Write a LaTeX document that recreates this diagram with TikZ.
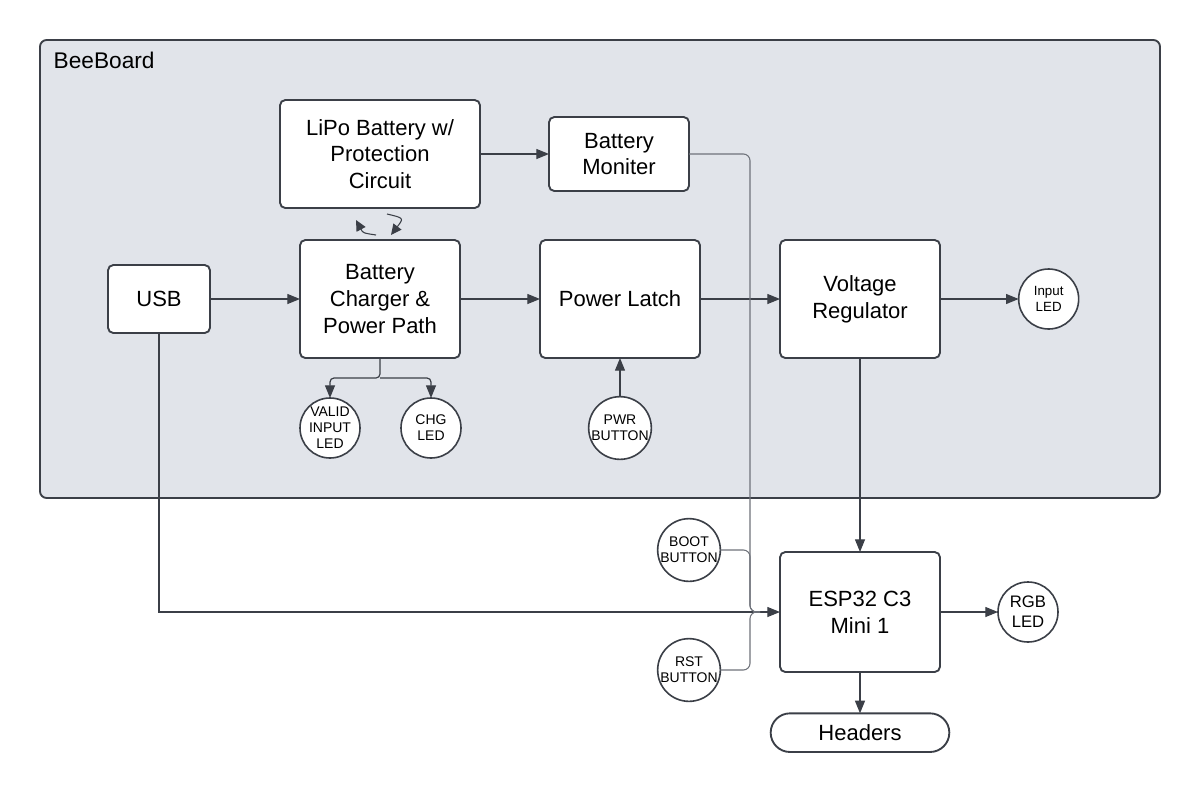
\documentclass[tikz,border=0pt]{standalone}
\usepackage{fontspec}
\setmainfont{Liberation Sans}
\usetikzlibrary{arrows.meta, backgrounds, calc, positioning}
\definecolor{linecolor}{HTML}{3B3F47}
\definecolor{busline}{HTML}{6E727A}
\definecolor{panelfill}{HTML}{E1E4EA}
\tikzset{
  box/.style={
    draw=linecolor,
    line width=1.4pt,
    rounded corners=4pt,
    align=center,
    fill=white,
    inner sep=2pt,
    outer sep=0pt,
    font=\fontsize{16.5}{20}\selectfont
  },
  block/.style={box, minimum width=120pt, minimum height=88.5pt},
  led/.style={
    circle,
    draw=linecolor,
    line width=1.2pt,
    fill=white,
    align=center,
    inner sep=0pt,
    outer sep=0pt,
    minimum size=45pt,
    font=\fontsize{10.5}{12}\selectfont
  },
  pill/.style={box, rounded corners=14.5pt, minimum width=134pt, minimum height=29pt},
  arr/.style={-{Triangle[length=9.5pt,width=7.5pt]}, line width=0.9pt, draw=linecolor},
  bus/.style={line width=0.8pt, draw=busline, rounded corners=5pt},
  cyclearr/.style={-{Triangle[length=8pt,width=7.5pt]}, line width=0.8pt, draw=linecolor},
  panel/.style={draw=linecolor, line width=1.4pt, rounded corners=5pt, fill=panelfill},
  note/.style={font=\fontsize{17}{20}\selectfont}
}
\begin{document}
\begin{tikzpicture}[x=0.75pt, y=-0.75pt]
\useasboundingbox (0,0) rectangle (1200,793);

\node[box, minimum width=76.5pt, minimum height=51pt] (usb) at (159,299) {USB};
\node[block, right=67.5pt of usb] (charger) {Battery\\Charger \&\\Power Path};
\node[block, right=60pt of charger] (latch) {Power Latch};
\node[block, right=60pt of latch] (regulator) {Voltage\\Regulator};
\node[box, above=24pt of charger, minimum width=150pt, minimum height=81pt] (lipo) {LiPo Battery w/\\Protection\\Circuit};
\node[box, right=51.75pt of lipo, minimum width=105pt, minimum height=55.5pt] (monitor) {Battery\\Moniter};
\node[led, right=59pt of regulator, font=\fontsize{10}{12}\selectfont] (inputled) {Input\\LED};
\node[block, below=145.5pt of regulator, minimum height=90pt] (esp) {ESP32 C3\\Mini 1};
\node[led, right=43.5pt of esp, font=\fontsize{12.5}{15}\selectfont] (rgbled) {RGB\\LED};
\node[pill, below=31pt of esp] (headers) {Headers};

\node[led] (validled) at (330,428) {VALID\\INPUT\\LED};
\node[led] (chgled) at (431,428) {CHG\\LED};
\node[led] (pwrbtn) at (620,428) {PWR\\BUTTON};
\node[led] (bootbtn) at (689,550) {BOOT\\BUTTON};
\node[led] (rstbtn) at (689,670) {RST\\BUTTON};

\coordinate (split) at ($(charger.south)+(0,20)$);
\coordinate (bus) at ($(esp.west)+(-30,0)$);

\draw[arr] (usb) -- (charger);
\draw[arr] (charger) -- (latch);
\draw[arr] (latch) -- (regulator);
\draw[arr] (regulator) -- (inputled);
\draw[arr] (lipo.east) -- (lipo.east -| monitor.west);
\draw[arr] (regulator) -- (esp);
\draw[arr] (esp) -- (rgbled);
\draw[arr] (esp) -- (headers);
\draw[arr] (pwrbtn.north) -- (pwrbtn.north |- latch.south);

\draw[arr, rounded corners=3pt] (charger.south) -- (split) -| (validled.north);
\draw[arr, rounded corners=3pt] (split) -| (chgled.north);

% lines into the ESP32
\draw[arr] (usb.south) |- (esp.west);
\draw[bus] (monitor.east) -| (bus) -- ++(10,0);
\draw[bus] (bootbtn.east) -| (bus) -- ++(10,0);
\draw[bus] (rstbtn.east) -| (bus) -- ++(10,0);

% charge / discharge
\draw[cyclearr] ($(lipo.south)+(-4,27)$) .. controls ($(lipo.south)+(-17,25)$) .. ($(lipo.south)+(-24,12)$);
\draw[cyclearr] ($(lipo.south)+(7,6)$) .. controls ($(lipo.south)+(24,10)$) .. ($(lipo.south)+(11,27)$);

\begin{scope}[on background layer]
  \draw[panel] (40,40) rectangle (1160,498);
\end{scope}
\node[note, anchor=base west] (board) at (49,68) {BeeBoard};

\end{tikzpicture}
\end{document}
